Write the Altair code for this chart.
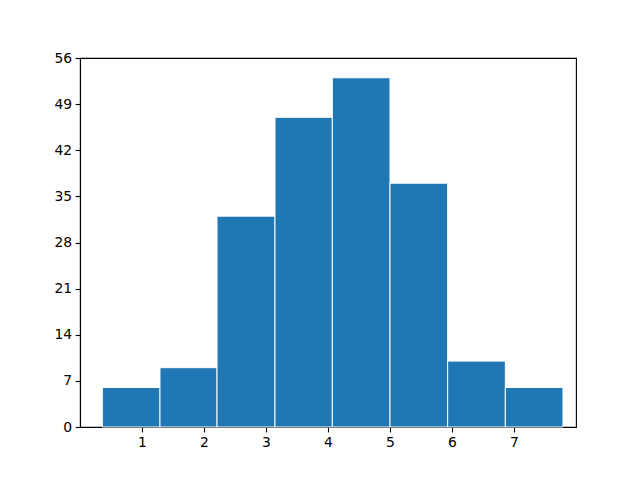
import altair as alt
import pandas as pd

bin_start = [0.36, 1.29, 2.21, 3.145, 4.07, 5.00, 5.93, 6.86]
bin_end = [1.29, 2.21, 3.145, 4.07, 5.00, 5.93, 6.86, 7.79]
counts = [6, 9, 32, 47, 53, 37, 10, 6]
x_ticks = [1, 2, 3, 4, 5, 6, 7]
y_ticks = [0, 7, 14, 21, 28, 35, 42, 49, 56]

df = pd.DataFrame({"start": bin_start, "end": bin_end, "count": counts})

axis_common = dict(
    grid=False,
    domainColor="black",
    domainWidth=1.1,
    tickColor="black",
    tickWidth=1.1,
    tickSize=4.9,
    labelFont="DejaVu Sans",
    labelFontSize=13.9,
    labelColor="black",
    labelPadding=3.5,
    title=None,
)

chart = (
    alt.Chart(df)
    .mark_rect(color="#1f77b4", stroke="white", strokeWidth=1)
    .encode(
        x=alt.X(
            "start:Q",
            scale=alt.Scale(domain=[0, 8], nice=False, zero=False, padding=0),
            axis=alt.Axis(values=x_ticks, format="d", labelFlush=False, **axis_common),
        ),
        x2="end:Q",
        y=alt.Y(
            "count:Q",
            scale=alt.Scale(domain=[0, 56], nice=False, padding=0),
            axis=alt.Axis(values=y_ticks, format="d", labelFlush=False, **axis_common),
        ),
        y2=alt.datum(0),
    )
    .properties(
        width=496,
        height=369,
        autosize=alt.AutoSizeParams(type="none"),
        padding={"left": 72, "top": 50, "right": 56, "bottom": 45},
    )
    .configure(background="white")
    .configure_view(stroke="black", strokeWidth=1.1)
)

chart.save("out.html", embed_options={"renderer": "svg", "actions": False})
